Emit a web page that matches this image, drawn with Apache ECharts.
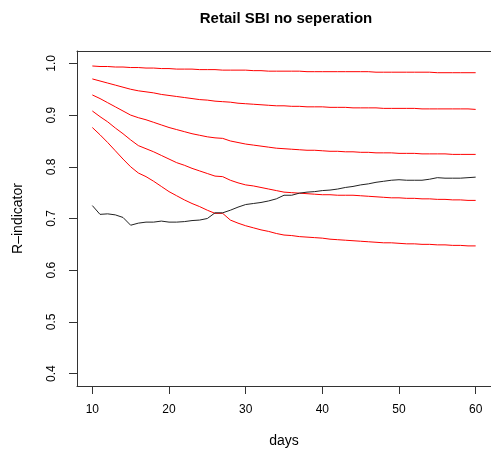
<!DOCTYPE html>
<html>
<head>
<meta charset="utf-8">
<script src="https://cdn.jsdelivr.net/npm/echarts@6/dist/echarts.min.js"></script>
<style>html,body{margin:0;padding:0;background:#fff;}#chart{width:491px;height:455px;}</style>
</head>
<body>
<div id="chart"></div>
<script>
const days = [10,11,12,13,14,15,16,17,18,19,20,21,22,23,24,25,26,27,28,29,30,31,32,33,34,35,36,37,38,39,40,41,42,43,44,45,46,47,48,49,50,51,52,53,54,55,56,57,58,59,60];
const red1 = [.995,.994,.994,.993,.993,.992,.992,.991,.991,.990,.990,.989,.989,.989,.988,.988,.988,.987,.987,.987,.987,.986,.986,.985,.985,.985,.985,.985,.984,.984,.984,.984,.984,.984,.984,.984,.984,.983,.983,.983,.983,.983,.983,.983,.983,.982,.982,.982,.982,.982,.982];
const red2 = [.970,.966,.962,.958,.954,.950,.947,.945,.943,.940,.938,.936,.934,.932,.930,.929,.927,.926,.925,.923,.922,.921,.920,.919,.918,.918,.917,.917,.916,.916,.916,.915,.915,.915,.914,.914,.914,.914,.913,.913,.913,.913,.913,.912,.912,.912,.912,.912,.912,.912,.911];
const red3 = [.939,.932,.924,.916,.908,.900,.895,.891,.886,.881,.876,.872,.868,.864,.861,.858,.856,.855,.850,.847,.844,.842,.840,.838,.836,.835,.834,.833,.832,.832,.831,.830,.830,.829,.829,.828,.828,.827,.827,.827,.826,.826,.826,.825,.825,.825,.825,.824,.824,.824,.824];
const red4 = [.908,.897,.887,.875,.864,.852,.841,.835,.829,.822,.815,.808,.803,.797,.792,.787,.782,.781,.774,.769,.765,.763,.760,.757,.754,.751,.750,.749,.748,.747,.746,.746,.745,.745,.745,.744,.743,.742,.741,.740,.740,.739,.739,.738,.738,.737,.737,.736,.736,.735,.735];
const red5 = [.876,.862,.847,.831,.815,.800,.788,.781,.772,.762,.752,.744,.736,.729,.723,.716,.710,.710,.697,.691,.686,.682,.678,.675,.671,.668,.667,.665,.664,.663,.662,.660,.659,.658,.657,.656,.655,.654,.653,.653,.652,.651,.651,.650,.650,.649,.649,.648,.648,.647,.647];
const black = [.725,.708,.709,.707,.702,.687,.691,.693,.693,.695,.693,.693,.694,.696,.697,.700,.711,.711,.716,.722,.727,.729,.731,.734,.738,.745,.745,.749,.751,.752,.754,.755,.757,.760,.762,.765,.767,.770,.772,.774,.775,.774,.774,.774,.776,.779,.778,.778,.778,.779,.780];
const xTicks = [10,20,30,40,50,60];
const yTicks = [0.4,0.5,0.6,0.7,0.8,0.9,1.0];
const titleText = 'Retail SBI no seperation';

const FONT = 'Liberation Sans, Arial, Helvetica, sans-serif';
const axisColor = '#333';
function mk(vals, color) {
  return {
    type: 'line', data: days.map((d, i) => [d, vals[i]]), symbol: 'none',
    lineStyle: { color: color, width: 1 }, silent: true, xAxisIndex: 0, yAxisIndex: 0
  };
}
const chart = echarts.init(document.getElementById('chart'), null, { renderer: 'canvas' });
chart.setOption({
  animation: false,
  backgroundColor: '#fff',
  graphic: [{
    type: 'text', x: 286, y: 19,
    style: { text: titleText, font: 'bold 15px ' + FONT, fill: '#000', textAlign: 'center', textVerticalAlign: 'middle' }
  }],
  grid: { left: 77, top: 51, bottom: 69, right: -3, containLabel: false },
  xAxis: [{
    type: 'value', min: 8, max: 62, position: 'bottom',
    name: 'days', nameLocation: 'middle', nameGap: 48,
    nameTextStyle: { fontFamily: FONT, fontSize: 14, color: '#000' },
    axisLine: { show: true, onZero: false, lineStyle: { color: axisColor, width: 1 } },
    axisTick: { show: true, length: 8, customValues: xTicks, lineStyle: { color: axisColor } },
    axisLabel: { customValues: xTicks, margin: 18, fontFamily: FONT, fontSize: 12, color: '#000' },
    splitLine: { show: false }
  }, {
    type: 'value', min: 8, max: 62, position: 'top',
    axisLine: { show: true, onZero: false, lineStyle: { color: axisColor, width: 1 } },
    axisTick: { show: false }, axisLabel: { show: false }, splitLine: { show: false }
  }],
  yAxis: [{
    type: 'value', min: 0.376, max: 1.024, position: 'left',
    name: 'R\u2013indicator', nameLocation: 'middle', nameGap: 52, nameRotate: 90,
    nameTextStyle: { fontFamily: FONT, fontSize: 14, color: '#000' },
    axisLine: { show: true, onZero: false, lineStyle: { color: axisColor, width: 1 } },
    axisTick: { show: true, length: 8, customValues: yTicks, lineStyle: { color: axisColor } },
    axisLabel: { customValues: yTicks, rotate: 90, margin: 19, fontFamily: FONT, fontSize: 12, color: '#000',
      formatter: v => v.toFixed(1) },
    splitLine: { show: false }
  }],
  series: [mk(red1, '#ff0000'), mk(red2, '#ff0000'), mk(red3, '#ff0000'), mk(red4, '#ff0000'), mk(red5, '#ff0000'), mk(black, '#222')]
});
</script>
</body>
</html>
